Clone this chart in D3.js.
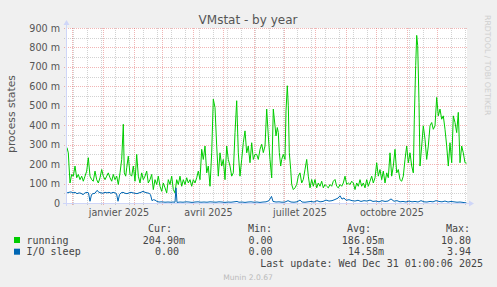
<!DOCTYPE html>
<html>
<head>
<meta charset="utf-8">
<script src="https://cdn.jsdelivr.net/npm/d3@7"></script>
<style>
  body { margin: 0; background: #f0f0f0; }
  svg { display: block; }
  text { font-family: "DejaVu Sans", sans-serif; }
  .mono { font-family: "DejaVu Sans Mono", monospace; }
</style>
</head>
<body>
<svg id="chart"></svg>
<script>
// values are in milli "process states" (the m unit), x is days since start of the graph
const running = [
  [0,285],[1.3,258],[3,103],[4.7,147],[6.3,138],[8,190],[9.7,130],[11.3,147],[13,120],[14.7,138],
  [16.3,112],[18,138],[19.7,164],[21.3,233],[23,138],[24.7,120],[26.3,112],[28,164],[29.7,120],[31.3,103],
  [33,130],[34.7,172],[36.3,138],[38,120],[39.7,138],[41.3,155],[43,130],[44.7,112],[46.3,147],[48,120],
  [49.7,138],[51.3,95],[53,155],[54.7,224],[56.3,405],[57.3,155],[58.7,138],[59.7,181],[61.3,241],[63,147],
  [64.7,138],[66.3,190],[68,112],[69.7,250],[71.3,138],[73,103],[74.7,155],[76.3,120],[78,138],[79.7,164],
  [81.3,103],[83,120],[84.7,147],[86.3,69],[88,120],[89.7,95],[91.3,138],[93,86],[94.7,60],[96.3,103],
  [98,78],[99.7,52],[101.3,120],[103,95],[104.7,138],[106.3,69],[108,52],[109.7,120],[111.3,95],[113,138],
  [114.7,86],[116.3,120],[118,95],[119.7,130],[121.3,103],[123,120],[124.7,86],[126.3,120],[128,103],[129.7,130],
  [131.3,164],[133,120],[134.7,276],[136.3,224],[138,293],[139.7,155],[141.3,190],[143,86],[144.7,258],[146.3,534],
  [148,491],[149.7,293],[151.3,138],[153,258],[154.7,190],[156.3,224],[158,120],[159.7,293],[161.3,224],[163,190],
  [164.7,138],[166.3,155],[168,362],[169.7,526],[171.3,258],[173,138],[174.7,224],[176.3,310],[178,371],[179.7,258],
  [181.3,293],[183,207],[184.7,310],[186.3,224],[188,250],[189.7,250],[191.3,224],[193,276],[194.7,302],[196.3,259],
  [198,293],[199.7,483],[201.3,345],[203,224],[204.7,129],[206.3,483],[208,397],[209,345],[210.3,388],[211.3,362],
  [212.3,259],[213.7,190],[214.7,224],[216.3,250],[218,224],[219,474],[220.3,603],[221.3,500],[222.3,259],[223.7,172],
  [224.7,95],[226.3,69],[228,78],[229.7,95],[231.3,138],[233,155],[234.7,103],[236.3,121],[238,172],[239.7,224],
  [241.3,138],[243,78],[244.7,121],[246.3,86],[248,121],[249.7,78],[251.3,103],[253,86],[254.7,112],[256.3,78],
  [258,95],[259.7,86],[261.3,78],[263,95],[264.7,86],[266.3,112],[268,121],[269.7,86],[271.3,78],[273,95],
  [274.7,86],[276.3,103],[278,138],[279.7,95],[281.3,103],[283,95],[284.7,112],[286.3,103],[288,69],[289.7,103],
  [291.3,86],[293,120],[294.7,86],[296.3,103],[298,78],[299.7,120],[301.3,86],[303,112],[304.7,138],[306.3,103],
  [308,130],[309.7,207],[311.3,138],[313,172],[314.7,120],[316.3,164],[318,103],[319.7,155],[321.3,130],[323,258],
  [324.7,138],[326.3,190],[328,276],[329.7,155],[331.3,172],[333,120],[334.7,112],[336.3,138],[338,224],[339.7,293],
  [341.3,207],[343,258],[344.7,190],[346.3,155],[347.3,431],[348.7,707],[349.7,862],[350.7,810],[352,517],[353,190],
  [354.7,293],[356.3,397],[358,328],[359.7,224],[361.3,293],[363,397],[364.7,414],[366.3,379],[368,397],[369.7,543],
  [371.3,448],[373,483],[374.7,431],[376.3,448],[378,379],[379.7,293],[381.3,190],[383,310],[384.7,207],[386.3,448],
  [388,414],[389.7,362],[391.3,466],[393,207],[394.7,293],[396.3,258],[398,207],[399.5,205]
];

const ioSleep = [
  [0,52],[2,55],[4,57],[6,52],[8,55],[10,48],[12,52],[14,50],[16,43],[18,52],[20,55],[21.5,52],[23,9],[24.5,43],
  [26,48],[28,50],[30,65],[32,55],[34,52],[36,50],[38,55],[40,52],[42,55],[44,50],[46,55],[48,52],[49.5,48],[51,9],
  [52.5,43],[54,52],[56,55],[58,50],[60,48],[62,52],[64,55],[66,52],[68,50],[70,48],[72,52],[74,55],[76,60],[78,55],
  [80,52],[82,50],[83.5,43],[85,12],[86.5,17],[88,15],[90,8],[92,5],[95,6],[98,4],[101,5],[104,4],[106,5],[108,4],
  [109,78],[110,3],[113,5],[116,4],[119,6],[122,5],[125,3],[128,5],[131,6],[134,4],[137,5],[140,4],[143,6],[146,5],
  [149,4],[152,6],[155,5],[158,3],[161,5],[164,4],[167,6],[170,8],[172,4],[175,5],[178,3],[181,5],[184,6],[187,4],
  [190,5],[193,3],[196,5],[199,6],[202,12],[204.5,34],[206,8],[209,5],[212,6],[215,4],[218,5],[221,12],[224,5],[227,4],
  [230,6],[233,15],[235,5],[238,4],[241,6],[244,8],[247,5],[250,12],[253,6],[256,8],[259,15],[262,10],[265,12],[268,18],
  [271,25],[273,37],[275,20],[277,26],[279,14],[282,17],[285,12],[288,10],[291,14],[294,8],[297,12],[300,10],[303,15],
  [306,8],[309,10],[312,6],[315,12],[318,8],[321,10],[324,21],[327,9],[330,12],[333,6],[336,8],[339,5],[342,10],
  [345,6],[348,8],[351,5],[354,12],[357,6],[360,5],[363,8],[366,6],[369,12],[372,8],[375,6],[378,10],[381,5],
  [384,8],[387,6],[390,4],[393,5],[396,3],[399.5,0]
];

const yTicks = [0, 100, 200, 300, 400, 500, 600, 700, 800, 900];
const monthLabels = ["janvier 2025", "avril 2025", "juillet 2025", "octobre 2025"];
const labelMonths = [[2025, 0], [2025, 3], [2025, 6], [2025, 9]];

const legendHead = ["Cur:", "Min:", "Avg:", "Max:"];
const legendRows = [
  { name: "running", color: "#00cc00", vals: ["204.90m", "0.00", "186.05m", "10.80"] },
  { name: "I/O sleep", color: "#0066b3", vals: ["0.00", "0.00", "14.58m", "3.94"] }
];
const lastUpdate = "Last update: Wed Dec 31 01:00:06 2025";

class VmstatChart {
  constructor(_config) {
    this.config = {
      parentElement: _config.parentElement,
      containerWidth: 497,
      containerHeight: 287,
      plot: { left: 67, top: 28, width: 400, height: 175 }
    };
    this.initVis();
  }

  initVis() {
    let vis = this;
    const p = vis.config.plot;

    vis.end = Date.UTC(2025, 11, 31, 1, 0, 6);
    vis.start = vis.end - 400 * 864e5;
    vis.dayToDate = d => new Date(vis.start + d * 864e5);

    vis.xScale = d3.scaleTime()
      .domain([new Date(vis.start), new Date(vis.end)])
      .range([p.left, p.left + p.width]);

    vis.yScale = d3.scaleLinear()
      .domain([0, 900])
      .range([p.top + p.height, p.top]);

    vis.svg = d3.select(vis.config.parentElement)
      .attr('width', vis.config.containerWidth)
      .attr('height', vis.config.containerHeight);

    vis.renderVis();
  }

  renderVis() {
    let vis = this;
    const p = vis.config.plot;
    const bottom = p.top + p.height;
    const right = p.left + p.width;

    // white canvas
    vis.svg.append('rect')
      .attr('x', p.left).attr('y', p.top)
      .attr('width', p.width).attr('height', p.height)
      .attr('fill', '#fff');

    const grid = vis.svg.append('g').attr('class', 'grid');
    const minorCol = 'rgba(143,143,143,0.4)';
    const majorCol = 'rgba(222,79,79,0.42)';

    // horizontal grid, minor every 50m, major every 100m
    grid.selectAll('.hmin')
      .data(d3.range(50, 900, 100))
      .join('line')
      .attr('x1', p.left - 3).attr('x2', right)
      .attr('y1', d => Math.round(vis.yScale(d)) + 0.5)
      .attr('y2', d => Math.round(vis.yScale(d)) + 0.5)
      .attr('stroke', minorCol).attr('stroke-dasharray', '1,1');

    grid.selectAll('.hmaj')
      .data(yTicks.filter(d => d > 0))
      .join('line')
      .attr('x1', p.left - 3).attr('x2', right)
      .attr('y1', d => Math.round(vis.yScale(d)) + 0.5)
      .attr('y2', d => Math.round(vis.yScale(d)) + 0.5)
      .attr('stroke', majorCol).attr('stroke-dasharray', '1,1');

    // vertical grid: months major, every other monday minor
    const months = d3.utcMonth.range(new Date(vis.start), new Date(vis.end));
    const monthX = months.map(m => Math.round(vis.xScale(m)));
    const weeks = d3.utcMonday.every(2).range(new Date(vis.start), new Date(vis.end))
      .filter(w => !monthX.includes(Math.round(vis.xScale(w))));

    grid.selectAll('.vmin')
      .data(weeks)
      .join('line')
      .attr('x1', d => Math.round(vis.xScale(d)) + 0.5)
      .attr('x2', d => Math.round(vis.xScale(d)) + 0.5)
      .attr('y1', p.top).attr('y2', bottom + 3)
      .attr('stroke', minorCol).attr('stroke-dasharray', '1,1');

    grid.selectAll('.vmaj')
      .data(months)
      .join('line')
      .attr('x1', d => Math.round(vis.xScale(d)) + 0.5)
      .attr('x2', d => Math.round(vis.xScale(d)) + 0.5)
      .attr('y1', p.top).attr('y2', bottom + 3)
      .attr('stroke', majorCol).attr('stroke-dasharray', '1,1');

    // series lines
    vis.line = d3.line()
      .x(d => vis.xScale(vis.dayToDate(d[0])))
      .y(d => vis.yScale(d[1]));

    vis.svg.append('path')
      .datum(running)
      .attr('fill', 'none')
      .attr('stroke', '#00cc00')
      .attr('stroke-width', 1)
      .attr('d', vis.line);

    vis.svg.append('path')
      .datum(ioSleep)
      .attr('fill', 'none')
      .attr('stroke', '#0066b3')
      .attr('stroke-width', 1)
      .attr('d', vis.line);

    // axes lines + arrows (munin axis colour)
    const axisCol = '#cfd6f8';
    vis.svg.append('line')
      .attr('x1', p.left - 0.5).attr('x2', p.left - 0.5)
      .attr('y1', bottom + 3).attr('y2', p.top - 5)
      .attr('stroke', axisCol);
    vis.svg.append('line')
      .attr('x1', p.left - 4).attr('x2', right + 3)
      .attr('y1', bottom + 0.5).attr('y2', bottom + 0.5)
      .attr('stroke', axisCol);
    vis.svg.append('path')
      .attr('d', `M${p.left - 3.5},${p.top - 3} L${p.left - 0.5},${p.top - 8} L${p.left + 2.5},${p.top - 3} Z`)
      .attr('fill', axisCol);
    vis.svg.append('path')
      .attr('d', `M${right + 2},${bottom - 2.5} L${right + 7},${bottom + 0.5} L${right + 2},${bottom + 3.5} Z`)
      .attr('fill', axisCol);

    // y axis labels
    vis.yAxisG = vis.svg.append('g')
      .attr('class', 'axis y-axis')
      .attr('transform', `translate(${p.left},0)`)
      .call(d3.axisLeft(vis.yScale)
        .tickValues(yTicks)
        .tickSize(0)
        .tickPadding(7)
        .tickFormat(d => d === 0 ? '0' : d + ' m'));

    // x axis labels, centred on the middle of the month like rrdtool does
    const labelDates = labelMonths.map(([yy, mm]) => {
      const a = Date.UTC(yy, mm, 1), b = Date.UTC(yy, mm + 1, 1);
      return new Date((a + b) / 2);
    });
    vis.xAxisG = vis.svg.append('g')
      .attr('class', 'axis x-axis')
      .attr('transform', `translate(0,${bottom})`)
      .call(d3.axisBottom(vis.xScale)
        .tickValues(labelDates)
        .tickSize(0)
        .tickPadding(6)
        .tickFormat((d, i) => monthLabels[i]));

    vis.svg.selectAll('.axis .domain').remove();
    vis.svg.selectAll('.axis text')
      .style('font-family', '"DejaVu Sans", sans-serif')
      .style('font-size', '9.6px')
      .attr('fill', '#555');

    // title
    vis.svg.append('text')
      .attr('x', 248).attr('y', 24)
      .attr('text-anchor', 'middle')
      .style('font-size', '12px')
      .attr('fill', '#555')
      .text('VMstat - by year');

    // y axis title
    vis.svg.append('text')
      .attr('transform', 'translate(15,114) rotate(-90)')
      .attr('text-anchor', 'middle')
      .style('font-size', '10.8px')
      .attr('fill', '#555')
      .text('process states');

    // rrdtool watermark
    vis.svg.append('text')
      .attr('transform', 'translate(485,15) rotate(90)')
      .style('font-size', '7.8px')
      .attr('fill', '#cfcfcf')
      .text('RRDTOOL / TOBI OETIKER');

    // legend
    const colEnds = [172, 272, 371, 470];
    const valEnds = [185, 278.5, 384, 477];
    const leg = vis.svg.append('g').attr('class', 'legend mono');

    leg.selectAll('.head')
      .data(legendHead)
      .join('text')
      .attr('class', 'mono')
      .attr('x', (d, i) => colEnds[i])
      .attr('y', 232)
      .attr('text-anchor', 'end')
      .style('font-size', '10px')
      .attr('fill', '#444')
      .text(d => d);

    legendRows.forEach((row, r) => {
      const yy = 243.5 + r * 11.7;
      leg.append('rect')
        .attr('x', 14).attr('y', yy - 6.5)
        .attr('width', 6).attr('height', 6)
        .attr('fill', row.color);
      leg.append('text')
        .attr('class', 'mono')
        .attr('x', 26.5).attr('y', yy)
        .style('font-size', '10px')
        .attr('fill', '#444')
        .text(row.name);
      leg.selectAll(null)
        .data(row.vals)
        .join('text')
        .attr('class', 'mono')
        .attr('x', (d, i) => valEnds[i] - (d.endsWith('m') ? 0 : 6))
        .attr('y', yy)
        .attr('text-anchor', 'end')
        .style('font-size', '10px')
        .attr('fill', '#444')
        .text(d => d);
    });

    leg.append('text')
      .attr('class', 'mono')
      .attr('x', 483).attr('y', 267)
      .attr('text-anchor', 'end')
      .style('font-size', '10px')
      .attr('fill', '#444')
      .text(lastUpdate);

    vis.svg.append('text')
      .attr('x', 248).attr('y', 279.5)
      .attr('text-anchor', 'middle')
      .style('font-size', '7.6px')
      .attr('fill', '#bbb')
      .text('Munin 2.0.67');
  }
}

new VmstatChart({ parentElement: '#chart' });
</script>
</body>
</html>
